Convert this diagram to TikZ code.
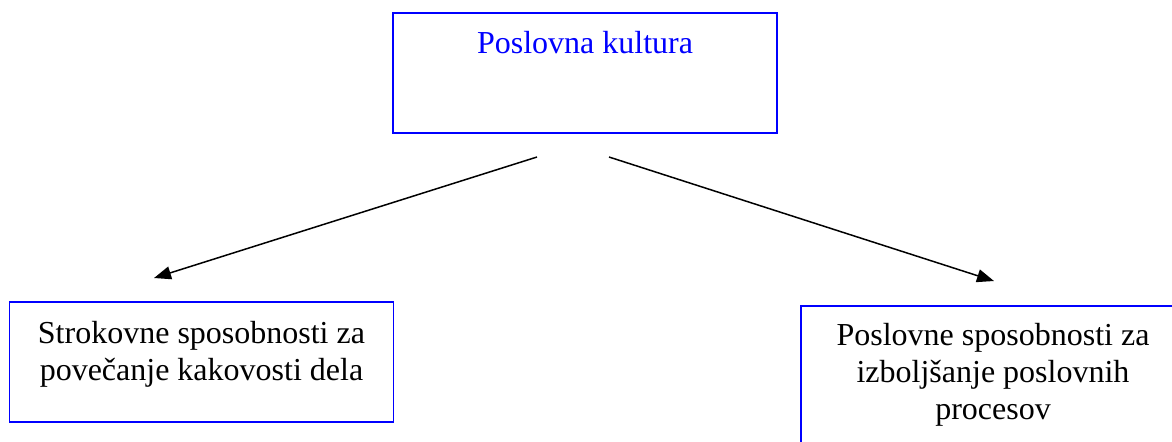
\documentclass[tikz,border=0pt]{standalone}
\usepackage{fontspec}
\setmainfont{Liberation Serif}
\usetikzlibrary{positioning,arrows.meta}
\definecolor{boxblue}{rgb}{0,0,1}

\begin{document}
\begin{tikzpicture}[
	x=0.5pt,
	y=-0.5pt,
	>={Triangle[length=8.5pt,width=6.5pt]}
]
\tikzset{
    kbox/.style = {draw=boxblue, line width=0.9pt, inner sep=0pt, minimum width=192pt, minimum height=60pt},
    ktext/.style = {font=\fontsize{16}{18.35}\selectfont, align=center, inner sep=0pt},
    karrow/.style = {->, line width=0.75pt},
}
    \useasboundingbox (0,0) rectangle (1172,441);
    \clip (0,0) rectangle (1172,441);

    \node (K) [kbox] at (585,73) {};
    \node (KT) [ktext, text=boxblue, below=9.5pt of K.north] {Poslovna kultura};

    \node (S) [kbox] at (201.5,362) {};
    \node (ST) [ktext, below=10pt of S.north] {Strokovne sposobnosti za\\povečanje kakovosti dela};

    \node (P) [kbox, minimum height=75pt] at (993,381) {};
    \node (PT) [ktext, below=9pt of P.north] {Poslovne sposobnosti za\\izboljšanje poslovnih\\procesov};

    \coordinate (KL) at (537,157);
    \coordinate (KR) at (609,157);
    \coordinate (SA) at (154,278);
    \coordinate (PA) at (994,281);
    \draw[karrow] (KL) -- (SA);
    \draw[karrow] (KR) -- (PA);
\end{tikzpicture}
\end{document}
